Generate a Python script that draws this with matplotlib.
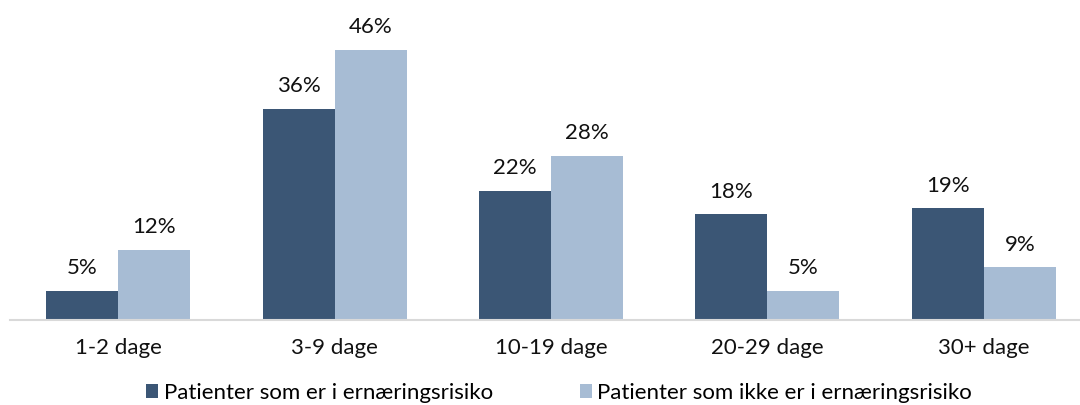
import matplotlib
matplotlib.use("Agg")
import matplotlib.pyplot as plt
import numpy as np

categories = ["1-2 dage", "3-9 dage", "10-19 dage", "20-29 dage", "30+ dage"]
series_names = ["Patienter som er i ernæringsrisiko", "Patienter som ikke er i ernæringsrisiko"]
risk = [5, 36, 22, 18, 19]
no_risk = [12, 46, 28, 5, 9]

dark = "#3B5675"
light = "#A7BCD4"

plt.rcParams['font.family'] = ['Lato', 'DejaVu Sans']

fig = plt.figure(figsize=(10.8, 4.05), dpi=100)
ax = fig.add_axes([10/1080, (405-320)/405, 1082/1080, 320/405])
ax.set_clip_on(False)

x = np.arange(len(categories))
w = 0.333
b1 = ax.bar(x - w/2, risk, w, color=dark, label=series_names[0])
b2 = ax.bar(x + w/2, no_risk, w, color=light, label=series_names[1])

for bars, vals in ((b1, risk), (b2, no_risk)):
    for r, v in zip(bars, vals):
        ax.annotate(f"{v}%", (r.get_x() + r.get_width()/2, v), xytext=(0, 9),
                    textcoords="offset points", ha="center", va="bottom",
                    fontsize=16, color="#111111")

ax.set_xlim(-0.5, len(categories) - 0.5)
ax.set_ylim(0, 320/5.87)
ax.set_xticks(x)
ax.set_xticklabels(categories, fontsize=16, color="#111111")
ax.tick_params(axis="x", length=0, pad=13)
ax.set_yticks([])
for s in ["top", "right", "left"]:
    ax.spines[s].set_visible(False)
ax.spines["bottom"].set_color("#D9D9D9")
ax.spines["bottom"].set_linewidth(1.5)

fig.legend(handles=[b1, b2], labels=series_names, loc="center", bbox_to_anchor=(0.5176, 0.03),
           ncol=2, frameon=False, fontsize=16, handlelength=0.55, handleheight=0.55,
           handletextpad=0.25, columnspacing=3.9, borderaxespad=0, borderpad=0)

fig.savefig("out.png", dpi=100)
